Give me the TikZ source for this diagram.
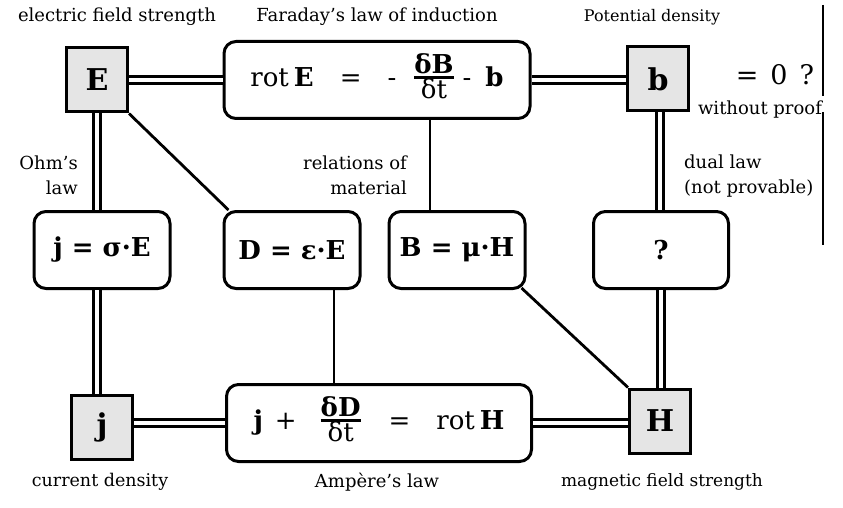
\documentclass[tikz,border=0pt]{standalone}
\usepackage{fontspec}
\setmainfont{DejaVu Serif}
\usetikzlibrary{calc}
\newcommand\myfr[2]{\begin{tabular}[c]{@{}c@{}}#1\\[-6pt]\hline\noalign{\vskip-1pt}#2\end{tabular}}
\tikzset{
 lbl/.style={font=\fontsize{18}{25}\selectfont, inner sep=0},
 eqbox/.style={draw, line width=3pt, rounded corners=12pt, minimum width=136pt, minimum height=77pt, inner sep=0, font=\fontsize{26}{30}\selectfont},
 smallbox/.style={eqbox, font=\bfseries\fontsize{26}{30}\selectfont},
 sq/.style={draw, line width=3pt, fill=black!10, minimum width=61pt, minimum height=64pt, inner sep=0, font=\bfseries\fontsize{30}{34}\selectfont},
 dbl/.style={line width=3pt, double distance=4pt, double=white},
 sgl/.style={line width=2.8pt},
}
\begin{document}
\begin{tikzpicture}[x=1pt,y=-1pt]
\useasboundingbox (0,0) rectangle (843,508);
\setlength{\arrayrulewidth}{2.5pt}
% square nodes
\node[sq] (E) at (97,80) {E};
\node[sq] (b) at (658,79) {b};
\node[sq] (j) at (102,427) {j};
\node[sq] (H) at (660,421) {H};
% equation boxes
\node[eqbox, minimum width=306pt] (F) at (377,80) {rot\hspace{5pt}\textbf{E}\hspace{26pt}=\hspace{26pt}-\hspace{18pt}\myfr{\textbf{δB}}{δt}\hspace{9pt}-\hspace{14pt}\textbf{b}};
\node[eqbox, minimum width=305pt] (A) at (379,423) {\textbf{j}\hspace{12pt}+\hspace{24pt}\myfr{\textbf{δD}}{δt}\hspace{28pt}=\hspace{26pt}rot\hspace{5pt}\textbf{H}};
\node[smallbox] (ohm) at (102,250) {j = σ·E};
\node[smallbox] (D) at (292,250) {D = ε·E};
\node[smallbox] (B) at (457,250) {B = μ·H};
\node[smallbox, minimum width=135pt] (q) at (661,250) {?};
% double connectors
\draw[dbl] (E) -- (F);
\draw[dbl] (F.east) -- (F.east -| b.west);
\draw[dbl] (E.south) -- (E.south |- ohm.north);
\draw[dbl] (E.south |- ohm.south) -- (E.south |- j.north);
\draw[dbl] (A.west) -- (A.west -| j.east);
\draw[dbl] (A.east) -- (A.east -| H.west);
\draw[dbl] ([xshift=2pt]b.south) -- ([xshift=2pt]b.south |- q.north);
\draw[dbl] (q.south) -- (q.south |- H.north);
% single connectors
\draw[sgl] (E.south east) -- ([xshift=6pt]D.north west);
\draw[sgl] ([xshift=53pt]F.south) -- ([xshift=53pt]F.south |- B.north);
\draw[sgl] ([xshift=42pt]D.south) -- ([xshift=42pt]D.south |- A.north);
\draw[sgl] ([xshift=-5pt,yshift=2pt]B.south east) -- (H.north west);
% right bar
\coordinate (r1) at (823,5);
\coordinate (r2) at (823,96);
\coordinate (r3) at (823,112);
\coordinate (r4) at (823,245);
\draw[line width=2.5pt] (r1) -- (r2) (r3) -- (r4);
% labels
\node[lbl] (l1) at (117,17) {electric field strength};
\node[lbl] (l2) at (377,17) {Faraday’s law of induction};
\node[lbl, font=\fontsize{16}{20}\selectfont] (l3) at (652,17) {Potential density};
\node[lbl, anchor=east, align=right] (l4) at (78,175) {Ohm’s\\law};
\node[lbl, anchor=east, align=right] (l5) at (407,175) {relations of\\material};
\node[lbl, anchor=west, align=left] (l6) at (684,176) {dual law\\(not provable)};
\node[lbl] (l7) at (760,110) {without proof};
\node[inner sep=0, font=\fontsize{27}{30}\selectfont] (l8) at (775,75) {=\hspace{12pt}0\hspace{12pt}?};
\node[lbl, font=\fontsize{17.5}{25}\selectfont] (l9) at (100,482) {current density};
\node[lbl] (l10) at (377,482) {Ampère’s law};
\node[lbl, font=\fontsize{17}{25}\selectfont] (l11) at (662,482) {magnetic field strength};
\end{tikzpicture}
\end{document}
